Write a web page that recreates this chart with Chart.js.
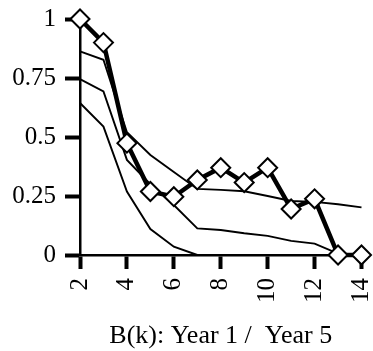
<!DOCTYPE html>
<html><head><meta charset="utf-8">
<script src="https://cdn.jsdelivr.net/npm/chart.js@4/dist/chart.umd.min.js"></script>
<style>html,body{margin:0;padding:0;background:#fff}#wrap{width:373px;height:351px}</style>
</head><body><div id="wrap"><canvas id="c" width="373" height="351"></canvas></div>
<script>
const categories = [2,3,4,5,6,7,8,9,10,11,12,13,14];
const seriesDiamond = [1.0,0.90,0.474,0.269,0.247,0.318,0.370,0.307,0.370,0.195,0.238,0,0];
const seriesA = [0.863,0.827,0.52,0.424,0.352,0.28,0.276,0.27,0.25,0.229,0.225,0.215,0.202];
const seriesB = [0.745,0.693,0.403,0.30,0.212,0.113,0.106,0.092,0.081,0.06,0.048,0.006,0];
const seriesC = [0.644,0.544,0.269,0.11,0.035,0,0,0,0,0,0,0,0];
const yTickValues = [0,0.25,0.5,0.75,1];
const yTickLabels = ['0','0.25','0.5','0.75','1'];
const xTitle = 'B(k): Year 1 /  Year 5';

const toPts = arr => categories.map((k,i)=>({x:k,y:arr[i]}));
const FONT = "'Liberation Serif','Times New Roman',serif";

function thin(arr){return {data:toPts(arr),borderColor:'#000',borderWidth:1.9,pointRadius:0,tension:0,fill:false,clip:false};}

new Chart(document.getElementById('c'),{
  type:'line',
  data:{datasets:[
    {data:toPts(seriesDiamond),borderColor:'#000',borderWidth:4.5,pointStyle:'rectRot',pointRadius:9.5,
     pointBackgroundColor:'#fff',pointBorderColor:'#000',pointBorderWidth:2,tension:0,fill:false,clip:false},
    thin(seriesA),thin(seriesB),thin(seriesC)
  ]},
  options:{
    responsive:false,animation:false,
    layout:{padding:{left:0,top:19,right:10,bottom:0}},
    plugins:{legend:{display:false},tooltip:{enabled:false}},
    scales:{
      x:{type:'linear',min:2,max:14,
        afterFit:s=>{s.height=96;s.paddingLeft=0;s.paddingRight=0;},
        border:{display:true,color:'#000',width:2.5},
        grid:{drawOnChartArea:false,drawTicks:true,tickLength:14,tickColor:'#000',tickWidth:4},
        ticks:{stepSize:2,minRotation:90,maxRotation:90,autoSkip:false,padding:9,color:'#000',font:{family:FONT,size:25}},
        title:{display:true,text:xTitle,color:'#000',font:{family:FONT,size:26,lineHeight:1},padding:{top:0,bottom:2}}
      },
      y:{type:'linear',min:0,max:1,
        afterFit:s=>{s.width=80;s.paddingTop=0;s.paddingBottom=0;},
        afterBuildTicks:s=>{s.ticks=yTickValues.map(v=>({value:v}));},
        border:{display:true,color:'#000',width:2.5},
        grid:{drawOnChartArea:false,drawTicks:true,tickLength:15,tickColor:'#000',tickWidth:4},
        ticks:{padding:9,color:'#000',font:{family:FONT,size:25},
          callback:(v)=>{const i=yTickValues.indexOf(v);return i>=0?yTickLabels[i]:'';}}
      }
    }
  }
});
</script></body></html>
